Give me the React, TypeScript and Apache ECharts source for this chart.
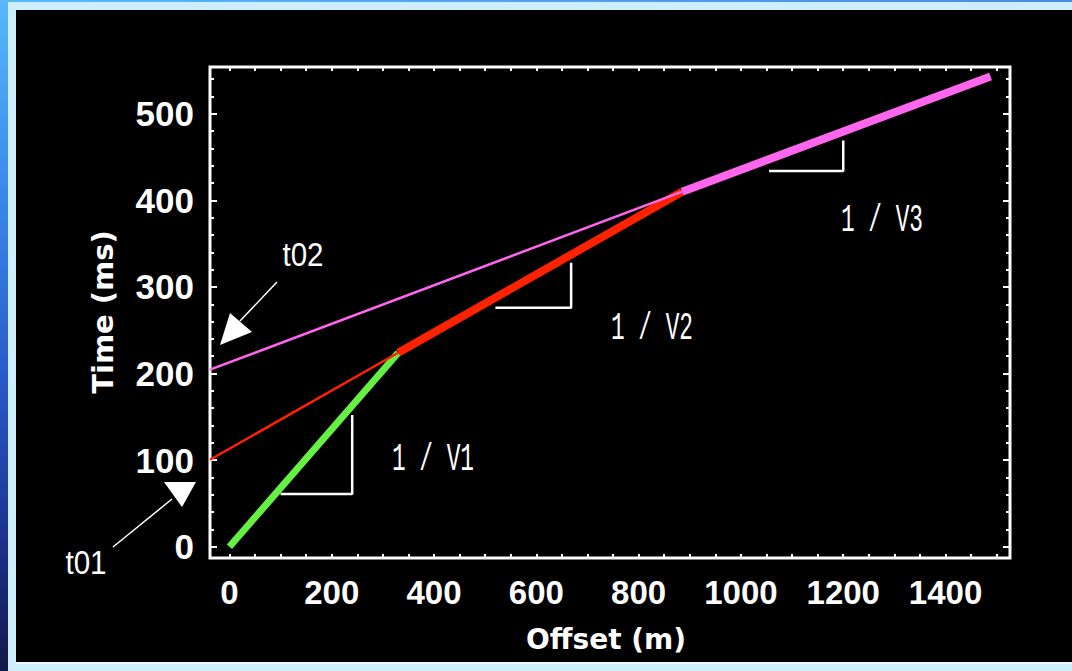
import React, { useEffect, useRef } from "react";
import * as echarts from "echarts";

// Axis extents (data units)
const X_MIN = -38;
const X_MAX = 1526;
const Y_MIN = -13;
const Y_MAX = 554;

// Tick labels and tick positions
const xLabelValues = [0, 200, 400, 600, 800, 1000, 1200, 1400];
const xTickValues = [0, 50, 100, 150, 200, 250, 300, 350, 400, 450, 500, 550, 600, 650, 700, 750, 800, 850, 900, 950, 1000, 1050, 1100, 1150, 1200, 1250, 1300, 1350, 1400, 1450, 1500];
const yLabelValues = [0, 100, 200, 300, 400, 500];
const yMinorTickValues = [0, 20, 40, 60, 80, 100, 120, 140, 160, 180, 200, 220, 240, 260, 280, 300, 320, 340, 360, 380, 400, 420, 440, 460, 480, 500, 520, 540];

// Travel-time segments [offset m, time ms]
const directWave = [[0, 0], [330, 224]];
const refractor1Extension = [[-38, 100.5], [330, 224]];
const refractor1 = [[330, 224], [885, 410]];
const refractor2Extension = [[-38, 204.5], [885, 410]];
const refractor2 = [[885, 410], [1488, 543]];

// Slope markers
const slopeV1 = [[100, 61], [240, 61], [240, 152]];
const slopeV2 = [[520, 276], [668, 276], [668, 328]];
const slopeV3 = [[1055, 434], [1200, 434], [1200, 469]];

const WHITE = "#ffffff";

function xAxis(position: string, withLabels: boolean) {
  return {
    type: "value",
    min: X_MIN,
    max: X_MAX,
    position,
    axisLine: { show: false, onZero: false },
    splitLine: { show: false },
    axisTick: {
      show: true,
      inside: true,
      length: 4,
      customValues: xTickValues,
      lineStyle: { color: WHITE, width: 2 },
    },
    axisLabel: withLabels
      ? {
          show: true,
          customValues: xLabelValues,
          formatter: (v: number) => String(v),
          color: WHITE,
          fontFamily: "Liberation Sans, Arial, sans-serif",
          fontWeight: "bold",
          fontSize: 33,
          margin: 18,
        }
      : { show: false },
  };
}

function yAxis(position: string, ticks: number[], len: number, withLabels: boolean) {
  return {
    type: "value",
    min: Y_MIN,
    max: Y_MAX,
    position,
    axisLine: { show: false, onZero: false },
    splitLine: { show: false },
    axisTick: {
      show: true,
      inside: true,
      length: len,
      customValues: ticks,
      lineStyle: { color: WHITE, width: 2 },
    },
    axisLabel: withLabels
      ? {
          show: true,
          customValues: yLabelValues,
          formatter: (v: number) => String(v),
          color: WHITE,
          fontFamily: "Liberation Sans, Arial, sans-serif",
          fontWeight: "bold",
          fontSize: 35,
          margin: 16,
        }
      : { show: false },
  };
}

function seg(data: number[][], color: string, width: number, z: number) {
  return {
    type: "line",
    data,
    showSymbol: false,
    symbol: "none",
    xAxisIndex: 0,
    yAxisIndex: 0,
    z,
    lineStyle: { color, width, cap: "butt" },
    silent: true,
  };
}

const annoFont = "Liberation Mono, DejaVu Sans Mono, monospace";

function annoText(text: string, x: number, y: number) {
  return {
    type: "text",
    x,
    y,
    scaleX: 0.6,
    z: 100,
    style: {
      text,
      fill: WHITE,
      font: `normal 38px ${annoFont}`,
      align: "center",
      verticalAlign: "middle",
    },
  };
}

function tLabel(text: string, x: number, y: number) {
  return {
    type: "text",
    x,
    y,
    scaleX: 0.87,
    z: 100,
    style: {
      text,
      fill: WHITE,
      font: "normal 34px Liberation Sans, Arial, sans-serif",
      align: "center",
      verticalAlign: "middle",
    },
  };
}

export default function App() {
  const ref = useRef<HTMLDivElement>(null);

  useEffect(() => {
    if (!ref.current) return;
    const chart = echarts.init(ref.current, null, { renderer: "svg" });
    chart.setOption({
      animation: false,
      backgroundColor: "transparent",
      grid: {
        show: true,
        left: 210,
        right: 62,
        top: 67,
        bottom: 113,
        borderColor: WHITE,
        borderWidth: 3,
        backgroundColor: "transparent",
        containLabel: false,
      },
      xAxis: [xAxis("bottom", true), xAxis("top", false)],
      yAxis: [
        yAxis("left", yMinorTickValues, 4, false),
        yAxis("left", yLabelValues, 7, true),
        yAxis("right", yMinorTickValues, 4, false),
        yAxis("right", yLabelValues, 7, false),
      ],
      series: [
        seg(directWave, "#66f044", 7, 2),
        seg(refractor1Extension, "#ff2200", 2.5, 3),
        seg(refractor1, "#ff2200", 8, 4),
        seg(refractor2Extension, "#ff66ee", 2.5, 5),
        seg(refractor2, "#ff66ee", 8, 6),
        seg(slopeV1, WHITE, 2.5, 7),
        seg(slopeV2, WHITE, 2.5, 7),
        seg(slopeV3, WHITE, 2.5, 7),
      ],
      graphic: [
        {
          type: "text",
          x: 606,
          y: 639,
          z: 100,
          style: {
            text: "Offset (m)",
            fill: WHITE,
            font: "bold 28px DejaVu Sans, sans-serif",
            align: "center",
            verticalAlign: "middle",
          },
        },
        {
          type: "text",
          x: 103,
          y: 312,
          rotation: Math.PI / 2,
          z: 100,
          style: {
            text: "Time (ms)",
            fill: WHITE,
            font: "bold 29px DejaVu Sans, sans-serif",
            align: "center",
            verticalAlign: "middle",
          },
        },
        annoText("1 / V1", 433, 460),
        annoText("1 / V2", 652, 329),
        annoText("1 / V3", 882, 221),
        tLabel("t02", 303, 254),
        tLabel("t01", 86, 562),
        {
          type: "line",
          z: 100,
          shape: { x1: 113, y1: 547, x2: 172, y2: 499 },
          style: { stroke: WHITE, lineWidth: 1.5 },
        },
        {
          type: "polygon",
          z: 100,
          shape: { points: [[164, 482], [196, 482], [182, 507]] },
          style: { fill: WHITE },
        },
        {
          type: "line",
          z: 100,
          shape: { x1: 277, y1: 282, x2: 240, y2: 321 },
          style: { stroke: WHITE, lineWidth: 1.5 },
        },
        {
          type: "polygon",
          z: 100,
          shape: { points: [[220, 345], [230, 313], [252, 332]] },
          style: { fill: WHITE },
        },
      ],
    });
    return () => chart.dispose();
  }, []);

  return (
    <div style={{ position: "absolute", left: 0, top: 0, width: 1072, height: 671, background: "#cdeefc", overflow: "hidden" }}>
      <div
        style={{
          position: "absolute",
          left: 0,
          top: 0,
          width: 8,
          height: 671,
          background: "linear-gradient(to bottom, #58b8fa 0%, #3a86ea 30%, #2a5ccc 55%, #1c3290 80%, #121848 100%)",
        }}
      />
      <div
        style={{
          position: "absolute",
          left: 0,
          top: 0,
          width: 1072,
          height: 2,
          background: "linear-gradient(to right, #58b8fa, #4a8ae8)",
        }}
      />
      <div style={{ position: "absolute", left: 16, top: 10, width: 1056, height: 652, background: "#000000" }} />
      <div style={{ position: "absolute", left: 16, top: 662, width: 1056, height: 2, background: "#eef8ff" }} />
      <div ref={ref} style={{ position: "absolute", left: 0, top: 0, width: 1072, height: 671 }} />
    </div>
  );
}
